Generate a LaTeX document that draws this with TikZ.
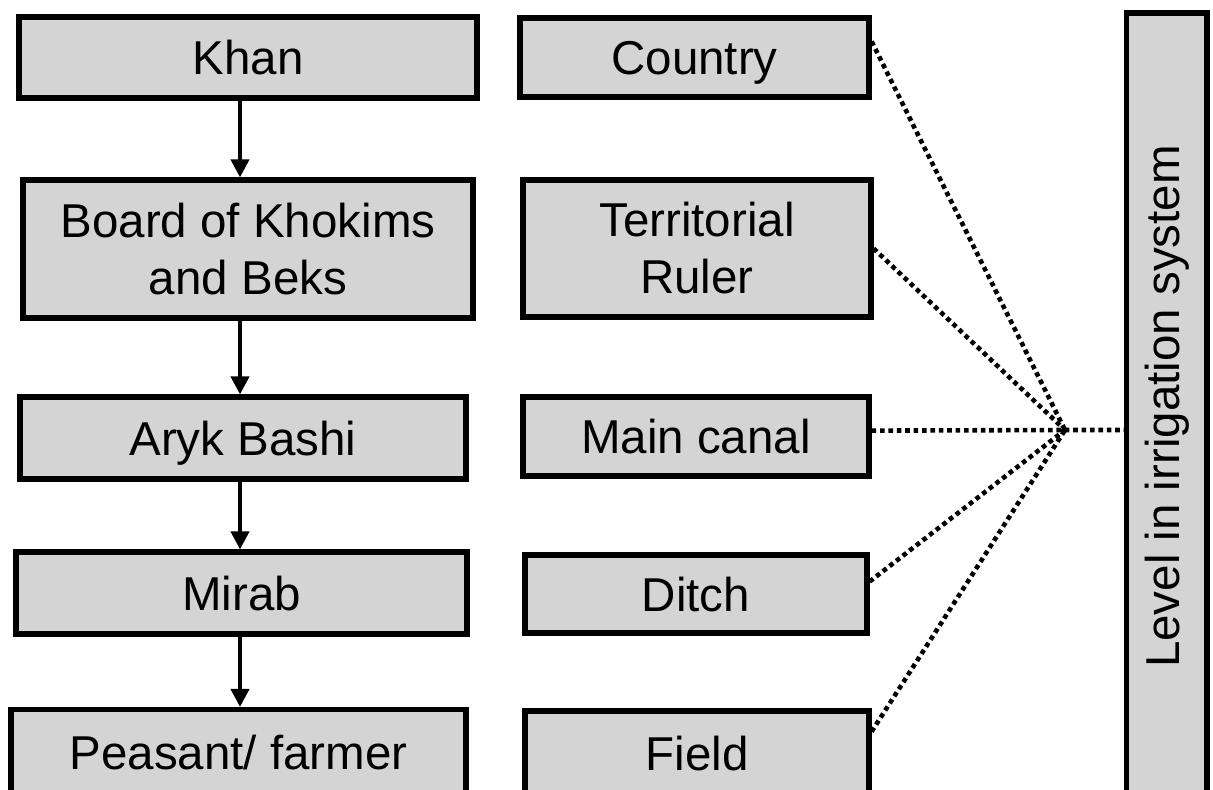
\documentclass[tikz,border=0pt]{standalone}
\usepackage{fontspec}
\setmainfont{Liberation Sans}
\usetikzlibrary{arrows.meta,calc}
\definecolor{boxgray}{RGB}{212,212,212}
\begin{document}
\begin{tikzpicture}[x=0.5pt,y=-0.5pt,
  box/.style={draw=black, line width=2.6pt, fill=boxgray, inner sep=0pt, align=center,
    font=\fontsize{23.75pt}{28.5pt}\selectfont},
  oneline/.style={box, text height=17pt, text depth=0pt},
  arr/.style={line width=2pt, -{Triangle[width=9pt,length=9pt]}},
  dotline/.style={line width=2.3pt, dash pattern=on 2.3pt off 1.9pt}]
\useasboundingbox (0,0) rectangle (1213,789);
\clip (0,0) rectangle (1213,789);
\fill[white] (0,0) rectangle (1213,789);
% left column
\node[oneline, minimum width=229pt, minimum height=40.5pt] (khan) at (248,57.5) {Khan};
\node[box, minimum width=225pt, minimum height=69pt] (board) at (248,249) {Board of Khokims\\and Beks};
\node[oneline, minimum width=223pt, minimum height=41pt] (aryk) at (243,438) {Aryk Bashi};
\node[oneline, minimum width=225.5pt, minimum height=41pt] (mirab) at (241.5,593) {Mirab};
\node[oneline, minimum width=227.5pt, minimum height=42.5pt] (peas) at (238.5,752) {Peasant/ farmer};
% middle column
\node[oneline, minimum width=174.5pt, minimum height=39.5pt] (ctry) at (694.5,57.5) {Country};
\node[box, minimum width=174pt, minimum height=68.5pt] (terr) at (697,248.5) {Territorial\\Ruler};
\node[oneline, minimum width=173pt, minimum height=39.5pt] (mcan) at (696,436.5) {Main canal};
\node[oneline, minimum width=171pt, minimum height=39pt] (ditch) at (696,594) {Ditch};
\node[oneline, minimum width=172pt, minimum height=42pt] (field) at (697,753) {Field};
% right bar
\node[box, minimum width=40.25pt, minimum height=393.5pt] (bar) at (1166.75,406.5) {\rotatebox{90}{Level in irrigation system}};
% arrows
\coordinate (ax) at (240,0);
\draw[arr] (khan.south -| ax) -- (board.north -| ax);
\draw[arr] (board.south -| ax) -- (aryk.north -| ax);
\draw[arr] (aryk.south -| ax) -- (mirab.north -| ax);
\draw[arr] (mirab.south -| ax) -- (peas.north -| ax);
% dotted connectors
\coordinate (hub) at (1065,430);
\draw[dotline] ($(ctry.north east)!0.31!(ctry.south east)$) -- (hub);
\draw[dotline] (terr.east) -- (hub);
\draw[dotline] ($(mcan.north east)!0.43!(mcan.south east)$) -- (hub) -- (bar.west |- hub);
\draw[dotline] ($(ditch.north east)!0.35!(ditch.south east)$) -- (hub);
\draw[dotline] ($(field.north east)!0.26!(field.south east)$) -- (hub);
\end{tikzpicture}
\end{document}
